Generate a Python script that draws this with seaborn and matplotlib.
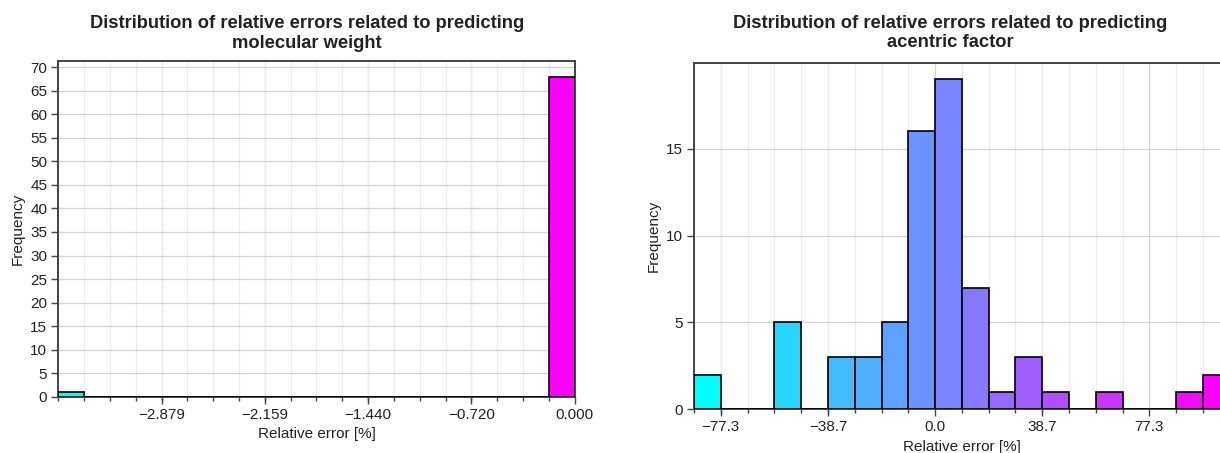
import numpy as np
import pandas as pd
import matplotlib
matplotlib.use("Agg")
import matplotlib.pyplot as plt
from matplotlib.ticker import FixedLocator, FixedFormatter
import seaborn as sns

# Histogram bin counts (20 equal-width bins spanning the error range)
mw_range = (-3.599, 0.0)
mw_counts = [1] + [0] * 18 + [68]

af_range = (-87.0, 106.33)
af_counts = [2, 0, 0, 5, 0, 3, 3, 5, 16, 19, 7, 1, 3, 1, 0, 1, 0, 0, 1, 2]

mw_ticks = [-2.879, -2.159, -1.440, -0.720, 0.000]
mw_ticklabels = ["\u22122.879", "\u22122.159", "\u22121.440", "\u22120.720", "0.000"]
mw_yticks = list(range(0, 71, 5))

af_ticks = [-77.33, -38.67, 0.0, 38.67, 77.33]
af_ticklabels = ["\u221277.3", "\u221238.7", "0.0", "38.7", "77.3"]
af_yticks = [0, 5, 10, 15]

titles = ["Distribution of relative errors related to predicting\nmolecular weight",
          "Distribution of relative errors related to predicting\nacentric factor"]

sns.set_theme(style="white")
plt.rcParams["font.family"] = ["Liberation Sans", "DejaVu Sans"]
plt.rcParams["axes.unicode_minus"] = True

W, H = 1220, 453
fig = plt.figure(figsize=(W / 100, H / 100), dpi=100)

ax1 = fig.add_axes([58.3 / W, 1 - 396.7 / H, 516.4 / W, 336.0 / H])
ax2 = fig.add_axes([694.0 / W, 1 - 409.3 / H, 535.8 / W, 346.6 / H])

text_color = "#222222"
spine_color = "#444444"


def draw_hist(ax, rng, counts, ticks, ticklabels, yticks, title, title_x, title_pad):
    n = len(counts)
    edges = np.linspace(rng[0], rng[1], n + 1)
    centers = (edges[:-1] + edges[1:]) / 2
    df = pd.DataFrame({"err": centers, "count": counts})
    sns.histplot(data=df, x="err", weights="count", bins=edges.tolist(), ax=ax,
                 stat="count", edgecolor="black", linewidth=1.2, alpha=1.0)
    cmap = plt.get_cmap("cool")
    for i, p in enumerate(ax.patches):
        p.set_facecolor(cmap(i / (n - 1)))
        p.set_zorder(3)
    ax.set_xlim(rng)
    ax.set_ylim(0, max(counts) * 1.05)

    ax.xaxis.set_major_locator(FixedLocator(ticks))
    ax.xaxis.set_major_formatter(FixedFormatter(ticklabels))
    ax.xaxis.set_minor_locator(FixedLocator(edges))
    ax.set_yticks(yticks)

    ax.grid(True, which="major", color="#d4d4d4", linewidth=0.9, zorder=0)
    ax.grid(True, which="minor", axis="x", color="#ececec", linewidth=0.9, zorder=0)
    ax.set_axisbelow(True)

    ax.tick_params(axis="both", which="major", direction="out", length=5, width=1,
                   color=spine_color, labelsize=11, labelcolor=text_color,
                   bottom=True, left=True, pad=3)
    ax.tick_params(axis="x", which="minor", direction="out", length=3, width=1,
                   color=spine_color, bottom=True)
    for s in ax.spines.values():
        s.set_color(spine_color)
        s.set_linewidth(1.4)

    ax.set_xlabel("Relative error [%]", fontsize=11, color=text_color, labelpad=4)
    ax.set_ylabel("Frequency", fontsize=11, color=text_color, labelpad=4)
    ax.set_title(title, fontsize=13.2, fontweight="bold", color=text_color,
                 x=title_x, pad=title_pad, linespacing=1.22)


draw_hist(ax1, mw_range, mw_counts, mw_ticks, mw_ticklabels, mw_yticks, titles[0], 0.482, 9)
draw_hist(ax2, af_range, af_counts, af_ticks, af_ticklabels, af_yticks, titles[1], 0.478, 11)

fig.savefig("out.png", dpi=100, facecolor="white")
